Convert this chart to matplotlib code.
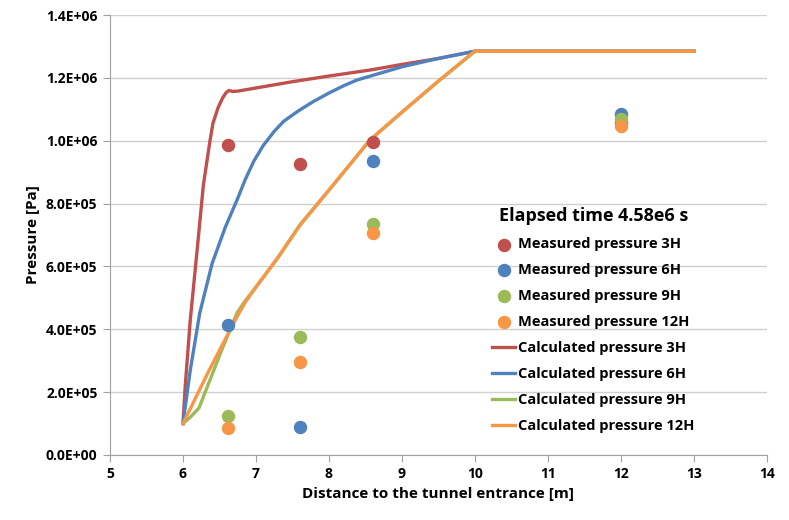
import matplotlib
matplotlib.use("Agg")
import matplotlib.pyplot as plt
from matplotlib.ticker import FuncFormatter, MultipleLocator

plt.rcParams['font.family'] = ['Open Sans', 'DejaVu Sans']
plt.rcParams['font.weight'] = 'bold'

# measured points
meas_x = [6.62, 7.6, 8.6, 12.0]
meas_3h = [985000, 925000, 995000, 1060000]
meas_6h = [415000, 90000, 937000, 1085000]
meas_9h = [125000, 375000, 735000, 1070000]
meas_12h = [85000, 295000, 707000, 1048000]

# calculated curves
calc3_x = [6.0, 6.03, 6.1, 6.19, 6.28, 6.37, 6.41, 6.48, 6.54, 6.59, 6.63, 6.68, 6.75, 7.0, 7.5,
           8.0, 8.56, 9.0, 9.5, 10.0, 13.0]
calc3_y = [100000, 217000, 430000, 643000, 860000, 1000000, 1055000, 1105000, 1135000, 1153000,
           1160000, 1157000, 1158000, 1168000, 1188000, 1206000, 1225000, 1243000, 1262000,
           1285000, 1285000]

calc6_x = [6.0, 6.1, 6.23, 6.4, 6.58, 6.74, 6.85, 6.97, 7.1, 7.25, 7.38, 7.5, 7.6, 7.78, 8.0,
           8.2, 8.38, 8.7, 9.01, 9.5, 10.0, 13.0]
calc6_y = [100000, 270000, 452000, 610000, 725000, 811000, 875000, 935000, 985000, 1030000,
           1062000, 1082000, 1098000, 1124000, 1152000, 1175000, 1193000, 1215000, 1236000,
           1262000, 1285000, 1285000]

calc9_x = [6.0, 6.1, 6.22, 6.37, 6.55, 6.74, 6.85, 6.97, 7.3, 7.6, 8.0, 8.56, 9.0, 9.5, 10.0, 13.0]
calc9_y = [100000, 120000, 150000, 239000, 345000, 452000, 490000, 525000, 628000, 732000, 843000,
           1002000, 1091000, 1190000, 1285000, 1285000]

calc12_x = [6.0, 6.37, 6.74, 6.85, 6.97, 7.3, 7.6, 8.0, 8.56, 9.0, 9.5, 10.0, 13.0]
calc12_y = [100000, 275000, 440000, 485000, 525000, 628000, 730000, 843000, 1002000, 1091000,
            1190000, 1285000, 1285000]

red = '#C0504D'
blue = '#4F81BD'
green = '#9BBB59'
orange = '#F79646'

fig = plt.figure(figsize=(7.89, 5.2), dpi=100)
ax = fig.add_axes([0.1394, 0.125, 0.8326, 0.846])

ax.scatter(meas_x, meas_3h, s=75, color=red, label='Measured pressure 3H', zorder=3)
ax.scatter(meas_x, meas_6h, s=75, color=blue, label='Measured pressure 6H', zorder=3)
ax.scatter(meas_x, meas_9h, s=75, color=green, label='Measured pressure 9H', zorder=3)
ax.scatter(meas_x, meas_12h, s=75, color=orange, label='Measured pressure 12H', zorder=3)

ax.plot(calc3_x, calc3_y, color=red, lw=2.4, label='Calculated pressure 3H', solid_joinstyle='round')
ax.plot(calc6_x, calc6_y, color=blue, lw=2.4, label='Calculated pressure 6H', solid_joinstyle='round')
ax.plot(calc9_x, calc9_y, color=green, lw=2.4, label='Calculated pressure 9H', solid_joinstyle='round')
ax.plot(calc12_x, calc12_y, color=orange, lw=2.4, label='Calculated pressure 12H', solid_joinstyle='round')

ax.set_xlim(5, 14)
ax.set_ylim(0, 1400000)
ax.xaxis.set_major_locator(MultipleLocator(1))
ax.yaxis.set_major_locator(MultipleLocator(200000))
ax.yaxis.set_major_formatter(FuncFormatter(lambda v, p: f"{v:.1E}"))

ax.grid(axis='y', color='#D0D0D0', lw=1)
ax.set_axisbelow(True)
for s in ['top', 'right']:
    ax.spines[s].set_visible(False)
for s in ['left', 'bottom']:
    ax.spines[s].set_color('#A0A0A0')
ax.tick_params(axis='both', color='#A0A0A0', length=5, labelsize=10, pad=4)
for lab in ax.get_xticklabels() + ax.get_yticklabels():
    lab.set_fontweight('bold')

ax.set_xlabel('Distance to the tunnel entrance [m]', fontsize=11, fontweight='bold')
ax.set_ylabel('Pressure [Pa]', fontsize=11, fontweight='bold')

leg = ax.legend(loc='lower right', bbox_to_anchor=(0.91, 0.02), frameon=False,
                title='Elapsed time 4.58e6 s', prop={'size': 10.5, 'weight': 'bold'},
                handlelength=1.6, handletextpad=0.2, labelspacing=0.82)
leg.get_title().set_fontsize(13)
leg.get_title().set_fontweight('bold')

fig.savefig('out.png', dpi=100)
